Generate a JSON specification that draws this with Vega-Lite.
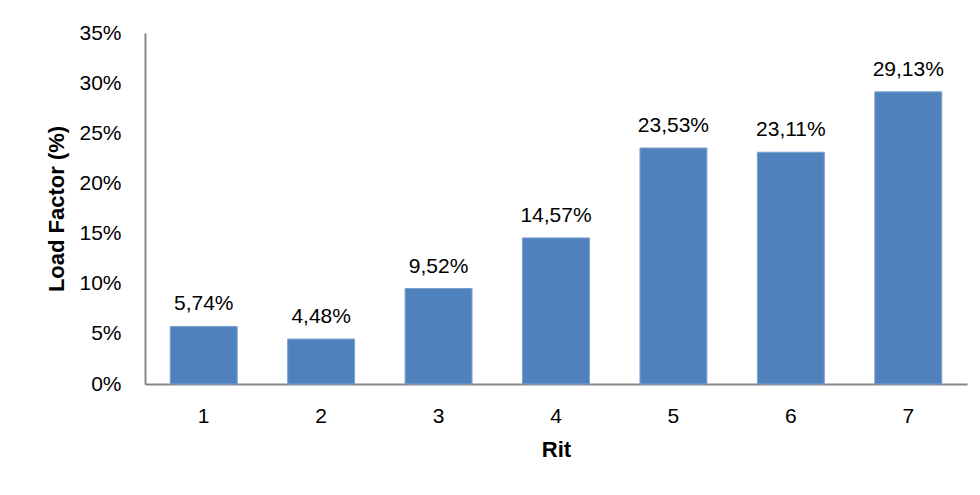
{
  "$schema": "https://vega.github.io/schema/vega-lite/v6.json",
  "width": 822,
  "height": 351,
  "autosize": "none",
  "padding": {"left": 145, "top": 33, "right": 13, "bottom": 111},
  "background": "white",
  "config": {
    "locale": {"number": {"decimal": ",", "thousands": ".", "grouping": [3], "currency": ["", " €"], "percent": "%"}},
    "font": "Liberation Sans",
    "view": {"stroke": null},
    "axis": {"labelFont": "Liberation Sans", "titleFont": "Liberation Sans", "labelColor": "#000000", "titleColor": "#000000", "domainColor": "#868686", "domainWidth": 2, "ticks": false, "grid": false, "labelFontSize": 21, "titleFontSize": 22, "titleFontWeight": "bold"}
  },
  "data": {"values": [
    {"rit": "1", "lf": 0.0574},
    {"rit": "2", "lf": 0.0448},
    {"rit": "3", "lf": 0.0952},
    {"rit": "4", "lf": 0.1457},
    {"rit": "5", "lf": 0.2353},
    {"rit": "6", "lf": 0.2311},
    {"rit": "7", "lf": 0.2913}
  ]},
  "encoding": {
    "x": {"field": "rit", "type": "ordinal", "title": "Rit", "scale": {"paddingInner": 0.43, "paddingOuter": 0.215}, "axis": {"labelAngle": 0, "labelPadding": 21, "titlePadding": 13}},
    "y": {"field": "lf", "type": "quantitative", "title": "Load Factor (%)", "scale": {"domain": [0, 0.35], "nice": false}, "axis": {"format": ".0%", "values": [0, 0.05, 0.1, 0.15, 0.2, 0.25, 0.3, 0.35], "labelPadding": 24, "titlePadding": 10}}
  },
  "layer": [
    {"mark": {"type": "bar", "color": "#4F81BD", "stroke": "#7BA0CD", "strokeWidth": 1}},
    {"mark": {"type": "text", "baseline": "bottom", "dy": -12, "fontSize": 21, "color": "#000000"}, "encoding": {"text": {"field": "lf", "type": "quantitative", "format": ".2%"}}}
  ]
}
